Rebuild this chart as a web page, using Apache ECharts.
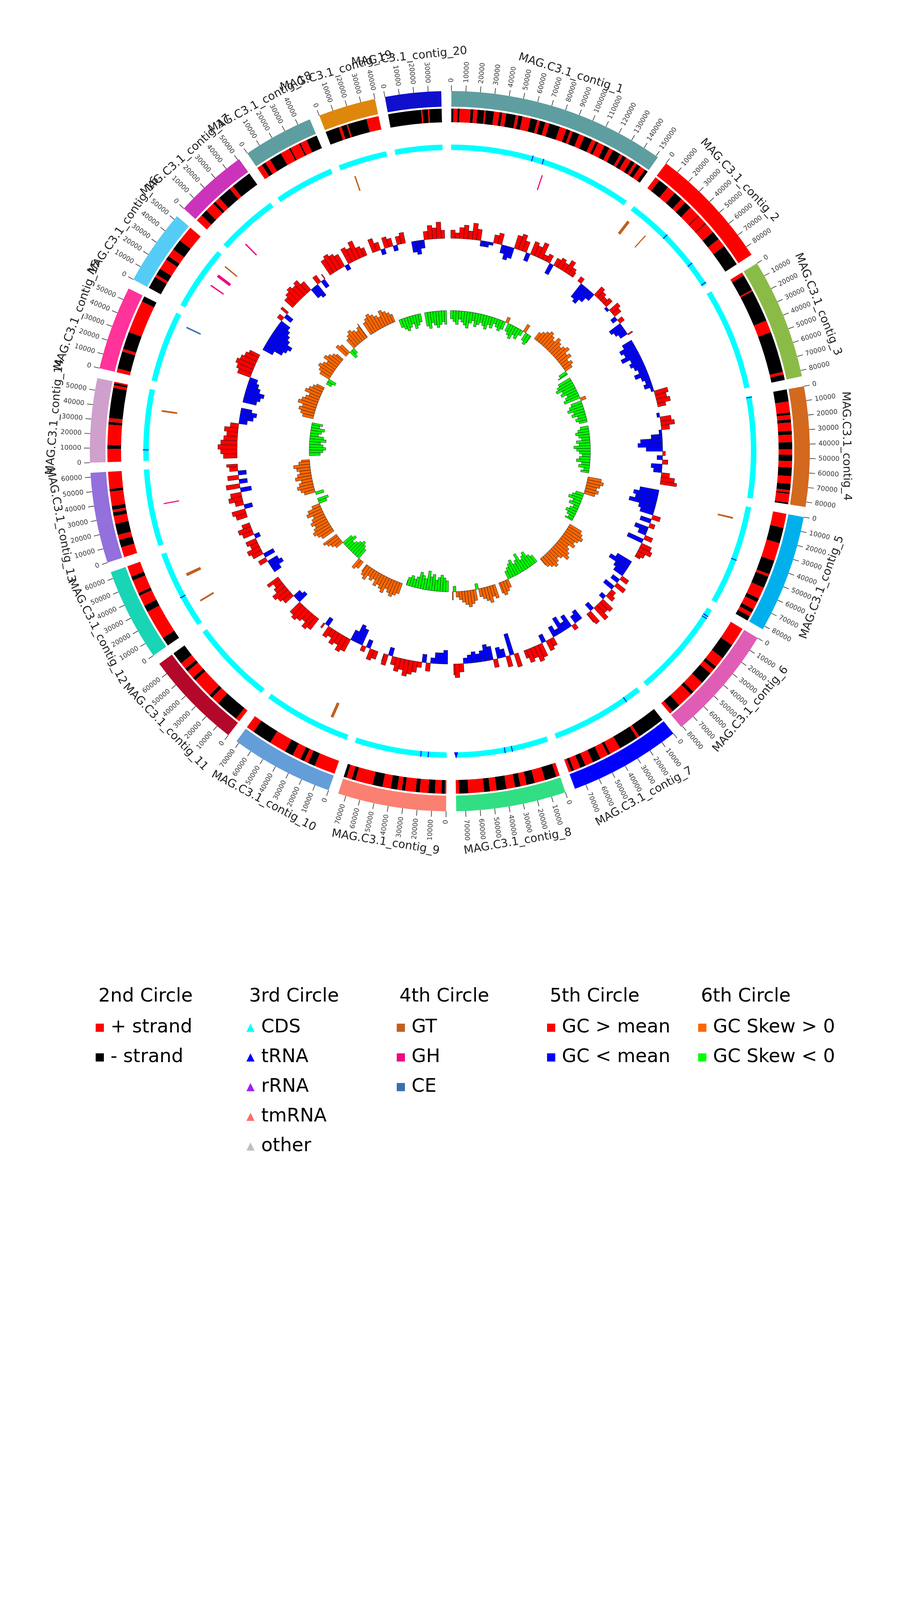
<!DOCTYPE html>
<html>
<head>
<meta charset="utf-8">
<script src="https://cdn.jsdelivr.net/npm/echarts@6/dist/echarts.min.js"></script>
<style>
html,body{margin:0;padding:0;background:#ffffff;}
#chart{width:2310px;height:4620px;}
</style>
</head>
<body>
<div id="chart"></div>
<script>
// ---------------- data ----------------
const contigNames = ['MAG.C3.1_contig_1','MAG.C3.1_contig_2','MAG.C3.1_contig_3','MAG.C3.1_contig_4','MAG.C3.1_contig_5',
  'MAG.C3.1_contig_6','MAG.C3.1_contig_7','MAG.C3.1_contig_8','MAG.C3.1_contig_9','MAG.C3.1_contig_10',
  'MAG.C3.1_contig_11','MAG.C3.1_contig_12','MAG.C3.1_contig_13','MAG.C3.1_contig_14','MAG.C3.1_contig_15',
  'MAG.C3.1_contig_16','MAG.C3.1_contig_17','MAG.C3.1_contig_18','MAG.C3.1_contig_19','MAG.C3.1_contig_20'];
const contigLengths = [151500, 86500, 84000, 83500, 82500, 81000, 78000, 76500, 75500, 72000,
  68500, 64500, 63000, 58500, 58500, 53000, 51000, 49000, 40000, 39000];
const contigColors = ['#5f9ea0','#ff0000','#8bbb47','#d2691e','#00b0ed','#e05db5','#0000ff','#32de84','#fa8072','#649ed8',
  '#b3082a','#1ad4b6','#9370db','#cfa0cb','#ff3399','#55ccf5','#cc33bb','#5f9ea0','#df870c','#1010cc'];
const GAP = 7000;
const TICK_STEP = 10000;
const WINDOW = 5000;

// strand runs in kb, alternating + strand / - strand, each list starting with + strand
const strandRuns = [
  [0,1.5,3,1.5,8,2,3,5,1,6,4,2,3,7,2,3,6,5,2,4,3,8,5,3,2,5,4,6,3,2,5,4,3,6,2,3,4,3,2,3,4,3],
  [3.5,8,6.5,6.5,3.5,5.5,8,0.5,7,0.5,8,6.5,6.5,16],
  [2.5,12,1,23.5,9,30,2,4],
  [0,8.8,8,1.8,3.3,2.2,6,2.8,5.5,5.1,4,4.6,4.6,6.4,5.5,4.6,1.8,0.9,6.4,1.2],
  [10.4,11.4,13.3,10.4,1.9,8.6,8.6,2.9,5.7,2.9,2.9,3.5],
  [14,11.6,7.7,2.6,3.9,9,9,2.6,11.6,6.4,2.6],
  [0,20.6,2,14.4,8,2,6,6,6,4,5,2,2],
  [2.6,8.5,7.7,6,4.5,4,6.4,7.2,4.8,4.3,11.5,6.7,2.3],
  [1,2.4,4.8,4.8,6.3,2.9,7.7,2.4,3.4,4.8,6,7.3,12.9,2.7,4,2.1],
  [15.5,5.2,3.1,3.1,6.2,6.2,12.4,14.4,5.9],
  [3,17,6,2.5,15,2.5,6,2.5,5,9],
  [0,6.5,22,5,8,2,10,3,8],
  [7.4,5.6,3.7,8.3,5.6,2.8,1.9,2.8,10.5,1.9,12.5],
  [9.6,2.8,14.8,1.9,2.8,22.2,1.9,1.5,1],
  [2.8,12.8,2,12.8,24,4.1],
  [0,9,2,5,8,3,6,8,12],
  [5,5,7,2,4,10,3,15],
  [4,3,4,9,7,1,7,1,5,8],
  [0,10,2,4,1,14,9],
  [0,24,1,4,1,9]
];

// tRNA sites: [contig index, position bp]
const trnaSites = [[0,67000],[0,76000],[1,35500],[1,66000],[1,85000],[3,1000],[4,44500],[5,6000],[5,8000],
  [6,13800],[7,30000],[7,35900],[8,15000],[8,21000],[11,26000],[13,9000]];
// tRNA drawn as an arrow head: [contig index, position bp]
const trnaArrows = [[7,75800]];

// CAZy features: [contig index, start, end, class]
const cazyFeatures = [[0,78500,79500,'GH'],[1,3000,5500,'GT'],[1,22500,23500,'GT'],[4,11000,12500,'GT'],
  [9,17000,19500,'GT'],[11,15000,16500,'GT'],[11,39500,42000,'GT'],[12,32500,33500,'GH'],[13,41500,43000,'GT'],
  [14,50500,51800,'CE'],[15,36000,38500,'GH'],[15,26500,27700,'GH'],[15,46500,47700,'GT'],[16,12500,13700,'GH'],
  [18,9000,10200,'GT']];

// GC content deviation from mean, one value per 5 kb window
const gcContent = [
  [3,2,4,5,3,6,4,-2,-2,-1,3,4,-3,-5,-4,5,6,4,-3,5,4,6,2,3,-4,3,4,3,5,3,2],
  [2,-6,-7,-5,-3,4,3,2,3,-1,4,3,-2,2,-5,-4,-3,2],
  [-4,-6,-5,-7,-4,-5,-4,-3,-5,-3,-2,-3,-1,5,4,5,3],
  [-1,4,5,3,-1,-4,-8,-9,-6,1,-2,2,-4,-3,3,5,6],
  [-7,-9,-8,-10,-6,-5,3,-4,2,-5,-3,3,-6,4,5,3,2],
  [-6,-8,-5,-4,3,-3,4,-4,2,3,-2,5,4,6,-3,5,4],
  [-4,-3,2,-5,-3,-6,-2,-4,3,4,-3,5,6,4,5,3],
  [5,-8,4,-3,-4,3,-5,-6,-4,-3,-4,-3,-2,3,5,4],
  [-5,-4,-4,-2,3,-3,2,4,5,6,4,5,3,-3,4,3],
  [3,4,-3,2,-6,-7,-4,5,6,4,5,3,4,-3,2],
  [5,6,4,5,6,5,-4,-3,4,5,6,4,3,5],
  [-3,-5,-4,3,-4,4,5,3,4,-2,4,5,3],
  [4,5,-3,3,5,4,-4,5,-3,4,-3,3,4],
  [5,6,7,6,5,4,5,3,-3,-5,-6,-4],
  [-5,-6,-7,-5,-4,-3,5,6,7,6,5,4],
  [-4,-7,-8,-9,-7,-6,-5,-4,2,-3,3],
  [4,5,6,5,6,4,-4,-5,3,-3,2],
  [6,7,6,5,-2,6,5,7,4,3],
  [5,3,-2,4,3,-2,3,4],
  [-4,-5,-3,3,5,4,6,3]
];

// GC skew, one value per 5 kb window
const gcSkew = [
  [-3,-4,-5,-3,-4,-5,-6,-4,-3,-5,-4,-3,-4,-5,-3,-4,-2,-3,-4,-3,2,-3,-4,-5,-3,-4,-2,3,-3,-4,-3],
  [3,4,5,6,5,4,6,5,4,5,6,4,5,3,4,3,-3,-4],
  [-5,-6,-7,-5,-6,-4,-5,-6,2,-4,-5,-6,-4,-5,-3,-4,-3],
  [-3,-4,-5,-4,-3,-5,-4,-6,-5,-4,-3,-4,-5,-3,-4,-2,-3],
  [5,6,5,4,5,4,-3,-4,-5,-3,-4,-2,-3,-4,-3,-2,-3],
  [5,6,7,6,5,6,4,5,6,7,5,4,5,6,5,4,3],
  [-3,-4,-6,-5,-4,-7,-5,-4,-6,-5,-4,-3,3,4,5,4],
  [5,4,6,5,4,3,-2,4,5,6,5,4,3,2,-2,3],
  [-4,-5,-6,-5,-4,-6,-5,-7,-4,-5,-6,-4,-3,-4,-3,-2],
  [4,5,6,5,4,6,5,4,5,3,4,3,5,4,3],
  [3,4,-4,-5,-6,-5,-4,-3,-5,-4,3,4,5,6],
  [5,6,7,6,5,6,5,4,6,5,3,-3,-4],
  [-3,4,5,6,5,4,6,5,4,5,6,4,3],
  [-4,-5,-6,-5,-4,-6,-5,-3,-4,-5,-3,-4],
  [4,5,6,5,7,6,5,4,6,5,4,3],
  [-2,-3,4,5,6,5,4,6,5,4,3],
  [5,4,-3,-2,4,5,6,5,4,5,6],
  [5,6,7,6,5,4,6,5,4,3],
  [-3,-4,-5,-4,-3,-5,-4,-3],
  [-5,-6,-4,-5,-6,-5,-4,-5]
];

const legendGroups = [
  {title:'2nd Circle', items:[['+ strand','rect','#ff0000'],['- strand','rect','#000000']]},
  {title:'3rd Circle', items:[['CDS','triangle','#00ffff'],['tRNA','triangle','#0000ff'],['rRNA','triangle','#a020f0'],['tmRNA','triangle','#f87070'],['other','triangle','#c0c0c0']]},
  {title:'4th Circle', items:[['GT','rect','#c0601c'],['GH','rect','#ee0a84'],['CE','rect','#3a6db4']]},
  {title:'5th Circle', items:[['GC > mean','rect','#ff0000'],['GC < mean','rect','#0000ff']]},
  {title:'6th Circle', items:[['GC Skew > 0','rect','#ff6600'],['GC Skew < 0','rect','#00ff00']]}
];

// ---------------- layout ----------------
const CX = 1152, CY = 1155;
const R_IDEO = [882, 922];
const R_STRAND = [842, 877];
const R_CDS = [771, 785];
const R_CAZY = [705, 745];
const GC_BASE = 545, GC_SCALE = 7;
const SKEW_BASE = 360, SKEW_SCALE = 7;
const FONT = '"DejaVu Sans", "Liberation Sans", sans-serif';

const offsets = [];
let acc = 0;
contigLengths.forEach(function (len) { offsets.push(acc); acc += len + GAP; });
const TOTAL = acc;

function colorOf(name) {
  for (const g of legendGroups) for (const it of g.items) if (it[0] === name) return it[2];
  return '#000';
}

function polarInfo(params, api, r, v) {
  const cs = params.coordSys;
  const p = api.coord([r, v]);
  return {x: p[0], y: p[1], R: Math.hypot(p[0] - cs.cx, p[1] - cs.cy), a: Math.atan2(p[1] - cs.cy, p[0] - cs.cx)};
}

function arcShape(params, api, v0, v1, ra, rb) {
  const cs = params.coordSys;
  const A = polarInfo(params, api, ra, v0);
  const B = polarInfo(params, api, rb, v0);
  const E = polarInfo(params, api, rb, v1);
  let a0 = B.a, a1 = E.a;
  while (a1 < a0) a1 += Math.PI * 2;
  return {cx: cs.cx, cy: cs.cy, r0: Math.min(A.R, B.R), r: Math.max(A.R, B.R), startAngle: a0, endAngle: a1, clockwise: true};
}

function bandRender(ra, rb, fill) {
  return function (params, api) {
    return {type: 'sector', shape: arcShape(params, api, api.value(0), api.value(1), ra, rb), style: {fill: fill}};
  };
}

function barRender(base, scale, fill) {
  return function (params, api) {
    const v = api.value(2);
    return {type: 'sector', shape: arcShape(params, api, api.value(0), api.value(1), base, base + v * scale),
      style: {fill: fill, stroke: '#1a1a1a', lineWidth: 0.9}};
  };
}

function arrowRender(params, api) {
  const v = api.value(0), half = api.value(1);
  const l = polarInfo(params, api, R_CDS[0], v - half);
  const r = polarInfo(params, api, R_CDS[0], v + half);
  const t = polarInfo(params, api, R_CDS[1] + 2, v);
  return {type: 'polygon', shape: {points: [[l.x, l.y], [r.x, r.y], [t.x, t.y]]}, style: {fill: '#0000ff'}};
}

// ideogram
const ideoData = contigLengths.map(function (len, i) { return [offsets[i], offsets[i] + len, i]; });

// strand
const plusData = [], minusData = [];
strandRuns.forEach(function (runs, ci) {
  let pos = 0;
  const len = contigLengths[ci];
  runs.forEach(function (kb, k) {
    const s = pos, e = Math.min(pos + kb * 1000, len);
    if (e > s) (k % 2 === 0 ? plusData : minusData).push([offsets[ci] + s, offsets[ci] + e]);
    pos += kb * 1000;
  });
});

const cdsData = contigLengths.map(function (len, i) { return [offsets[i], offsets[i] + len]; });
const trnaData = trnaSites.map(function (t) { return [offsets[t[0]] + t[1] - 350, offsets[t[0]] + t[1] + 350]; });
const trnaArrowData = trnaArrows.map(function (t) { return [offsets[t[0]] + t[1], 1700]; });
function cazyOf(cls) {
  return cazyFeatures.filter(function (f) { return f[3] === cls; })
    .map(function (f) { return [offsets[f[0]] + f[1], offsets[f[0]] + f[2]]; });
}
function windows(arr, sign) {
  const out = [];
  arr.forEach(function (vals, ci) {
    vals.forEach(function (v, k) {
      if (sign * v <= 0) return;
      const s = k * WINDOW, e = Math.min((k + 1) * WINDOW, contigLengths[ci]);
      out.push([offsets[ci] + s, offsets[ci] + e, v]);
    });
  });
  return out;
}

// ticks
const tickData = [], tickText = [];
contigLengths.forEach(function (len, i) {
  for (let p = 0; p <= len; p += TICK_STEP) { tickData.push([offsets[i] + p]); tickText.push(String(p)); }
});
const labelData = contigLengths.map(function (len, i) { return [offsets[i] + len / 2]; });

function tickRender(params, api) {
  const v = api.value(0);
  const p1 = polarInfo(params, api, 922, v);
  const p2 = polarInfo(params, api, 937, v);
  const pt = polarInfo(params, api, 944, v);
  const a = p1.a;
  const right = Math.cos(a) > 1e-6 || (Math.abs(Math.cos(a)) <= 1e-6 && Math.sin(a) < 0);
  return {type: 'group', children: [
    {type: 'line', shape: {x1: p1.x, y1: p1.y, x2: p2.x, y2: p2.y}, style: {stroke: '#333', lineWidth: 1.6}},
    {type: 'text', x: pt.x, y: pt.y, rotation: right ? -a : -(a + Math.PI),
      style: {text: tickText[params.dataIndex], fill: '#333', fontSize: 17, fontFamily: FONT,
        align: right ? 'left' : 'right', verticalAlign: 'middle'}}
  ]};
}

function labelRender(params, api) {
  const p = polarInfo(params, api, 1015, api.value(0));
  const a = p.a;
  const top = Math.sin(a) <= 0;
  const rot = top ? -(a + Math.PI / 2) : -(a - Math.PI / 2);
  return {type: 'text', x: p.x, y: p.y, rotation: rot,
    style: {text: contigNames[params.dataIndex], fill: '#222', fontSize: 29, fontFamily: FONT,
      align: 'center', verticalAlign: 'middle'}};
}

function custom(name, data, render, z) {
  return {type: 'custom', name: name, coordinateSystem: 'polar', data: data, renderItem: render,
    animation: false, silent: true, progressive: 0, z: z || 2, itemStyle: {color: colorOf(name)}};
}

const series = [
  {type: 'custom', name: 'contigs', coordinateSystem: 'polar', data: ideoData, animation: false, silent: true, progressive: 0,
    renderItem: function (params, api) {
      return {type: 'sector', shape: arcShape(params, api, api.value(0), api.value(1), R_IDEO[0], R_IDEO[1]),
        style: {fill: contigColors[api.value(2)]}};
    }},
  custom('ticks', tickData, tickRender),
  custom('labels', labelData, labelRender),
  custom('+ strand', plusData, bandRender(R_STRAND[0], R_STRAND[1], '#ff0000')),
  custom('- strand', minusData, bandRender(R_STRAND[0], R_STRAND[1], '#000000')),
  custom('CDS', cdsData, bandRender(R_CDS[0], R_CDS[1], '#00ffff')),
  custom('tRNA', trnaData, bandRender(R_CDS[0], R_CDS[1] + 1, '#0000ff'), 3),
  custom('tRNA arrow', trnaArrowData, arrowRender, 3),
  custom('rRNA', [], bandRender(R_CDS[0], R_CDS[1], '#a020f0')),
  custom('tmRNA', [], bandRender(R_CDS[0], R_CDS[1], '#f87070')),
  custom('other', [], bandRender(R_CDS[0], R_CDS[1], '#c0c0c0')),
  custom('GT', cazyOf('GT'), bandRender(R_CAZY[0], R_CAZY[1], '#c0601c')),
  custom('GH', cazyOf('GH'), bandRender(R_CAZY[0], R_CAZY[1], '#ee0a84')),
  custom('CE', cazyOf('CE'), bandRender(R_CAZY[0], R_CAZY[1], '#3a6db4')),
  custom('GC > mean', windows(gcContent, 1), barRender(GC_BASE, GC_SCALE, '#ff0000')),
  custom('GC < mean', windows(gcContent, -1), barRender(GC_BASE, GC_SCALE, '#0000ff')),
  custom('GC Skew > 0', windows(gcSkew, 1), barRender(SKEW_BASE, SKEW_SCALE, '#ff6600')),
  custom('GC Skew < 0', windows(gcSkew, -1), barRender(SKEW_BASE, SKEW_SCALE, '#00ff00'))
];

const colLeft = [245, 631, 1016, 1401, 1788];
const titles = legendGroups.map(function (g, i) {
  return {text: g.title, left: colLeft[i] + 7, top: 2528, padding: 0,
    textStyle: {fontSize: 48, fontWeight: 'normal', color: '#000', fontFamily: FONT}};
});
const legends = legendGroups.map(function (g, i) {
  return {orient: 'vertical', left: colLeft[i], top: 2607, padding: 0, itemGap: 28,
    itemWidth: 21, itemHeight: 21, selectedMode: false,
    textStyle: {fontSize: 48, color: '#000', fontFamily: FONT, padding: [0, 0, 0, 12]},
    data: g.items.map(function (it) { return {name: it[0], icon: it[1], itemStyle: {color: it[2]}}; })};
});

const chart = echarts.init(document.getElementById('chart'), null, {renderer: 'canvas'});
chart.setOption({
  backgroundColor: '#ffffff',
  animation: false,
  textStyle: {fontFamily: FONT},
  title: titles,
  legend: legends,
  polar: {center: [CX, CY], radius: [0, 1100]},
  angleAxis: {type: 'value', min: 0, max: TOTAL, startAngle: 89.75, clockwise: true,
    axisLine: {show: false}, axisTick: {show: false}, axisLabel: {show: false}, splitLine: {show: false}},
  radiusAxis: {type: 'value', min: 0, max: 1100,
    axisLine: {show: false}, axisTick: {show: false}, axisLabel: {show: false}, splitLine: {show: false}},
  series: series
});
</script>
</body>
</html>
